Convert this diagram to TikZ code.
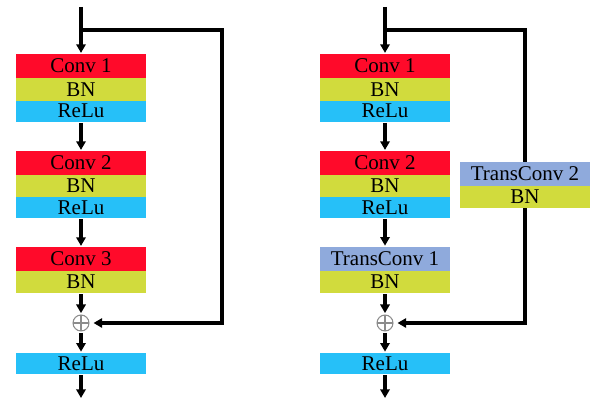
\documentclass[tikz,border=0pt]{standalone}
\usepackage{fontspec}
\setmainfont{Liberation Serif}
\usetikzlibrary{arrows.meta}
\definecolor{convred}{RGB}{255,10,42}
\definecolor{bnyellow}{RGB}{209,219,61}
\definecolor{relublue}{RGB}{38,192,248}
\definecolor{transblue}{RGB}{143,170,220}
\tikzset{
  layer/.style={minimum width=97.5pt, inner sep=0pt, outer sep=0pt,
    font=\fontsize{15.75}{18}\selectfont},
  convbox/.style={layer, fill=convred, minimum height=17.6pt},
  bnbox/.style={layer, fill=bnyellow, minimum height=16.5pt},
  relubox/.style={layer, fill=relublue, minimum height=15.75pt},
  transbox/.style={layer, fill=transblue, minimum height=18pt},
  wire/.style={line width=2.3pt, draw=black},
  flow/.style={wire, -{Triangle[width=7pt,length=6.5pt]}, shorten >=1pt, shorten <=1pt},
  addop/.style={circle, draw=gray!90, line width=0.8pt, minimum size=12pt, inner sep=0pt,
    path picture={\draw[gray!90, line width=0.8pt]
      (path picture bounding box.north) -- (path picture bounding box.south)
      (path picture bounding box.west) -- (path picture bounding box.east);}}
}
\begin{document}
\begin{tikzpicture}[x=0.75pt, y=-0.75pt]
\useasboundingbox (0,0) rectangle (592,403);

% ---- plain residual block ----
\node[convbox] (l1c) at (81,66) {Conv 1};
\node[bnbox, anchor=north] (l1b) at (81,78.5) {BN};
\node[relubox, anchor=north] (l1r) at (l1b.south) {ReLu};

\node[convbox] (l2c) at (81,163) {Conv 2};
\node[bnbox, anchor=north] (l2b) at (81,175) {BN};
\node[relubox, anchor=north] (l2r) at (l2b.south) {ReLu};

\node[convbox] (l3c) at (81,259) {Conv 3};
\node[bnbox, anchor=north] (l3b) at (81,271) {BN};

\node[addop] (lplus) at (81,323) {};
\node[relubox] (lout) at (81,363.5) {ReLu};

\coordinate (lin) at (81,7);
\coordinate (lsplit) at (81,30);
\coordinate (lturn) at (222,30);
\coordinate (lend) at (81,398);

\draw[wire] (lin) -- (lsplit);
\draw[flow, shorten <=0pt] (lsplit) -- (l1c.north);
\draw[flow] (l1r.south) -- (l2c.north);
\draw[flow] (l2r.south) -- (l3c.north);
\draw[flow] (l3b.south) -- (lplus.north);
\draw[flow] (lplus.south) -- (lout.north);
\draw[flow, shorten >=0pt] (lout.south) -- (lend);
\draw[flow, shorten <=0pt, shorten >=3pt] (lsplit) -- (lturn) |- (lplus.east);

% ---- block with transposed convolutions ----
\node[convbox] (r1c) at (385,66) {Conv 1};
\node[bnbox, anchor=north] (r1b) at (385,78.5) {BN};
\node[relubox, anchor=north] (r1r) at (r1b.south) {ReLu};

\node[convbox] (r2c) at (385,163) {Conv 2};
\node[bnbox, anchor=north] (r2b) at (385,175) {BN};
\node[relubox, anchor=north] (r2r) at (r2b.south) {ReLu};

\node[transbox] (r3t) at (385,259) {TransConv 1};
\node[bnbox, anchor=north] (r3b) at (385,271) {BN};

\node[transbox] (skt) at (525,174) {TransConv 2};
\node[bnbox, anchor=north] (skb) at (525,186) {BN};

\node[addop] (rplus) at (385,323) {};
\node[relubox] (rout) at (385,363.5) {ReLu};

\coordinate (rin) at (385,7);
\coordinate (rsplit) at (385,30);
\coordinate (rturn) at (525,30);
\coordinate (rend) at (385,398);

\draw[wire] (rin) -- (rsplit);
\draw[flow, shorten <=0pt] (rsplit) -- (r1c.north);
\draw[flow] (r1r.south) -- (r2c.north);
\draw[flow] (r2r.south) -- (r3t.north);
\draw[flow] (r3b.south) -- (rplus.north);
\draw[flow] (rplus.south) -- (rout.north);
\draw[flow, shorten >=0pt] (rout.south) -- (rend);
\draw[wire] (rsplit) -- (rturn) -- (skt.north);
\draw[flow, shorten <=0pt, shorten >=3pt] (skb.south) |- (rplus.east);
\end{tikzpicture}
\end{document}
